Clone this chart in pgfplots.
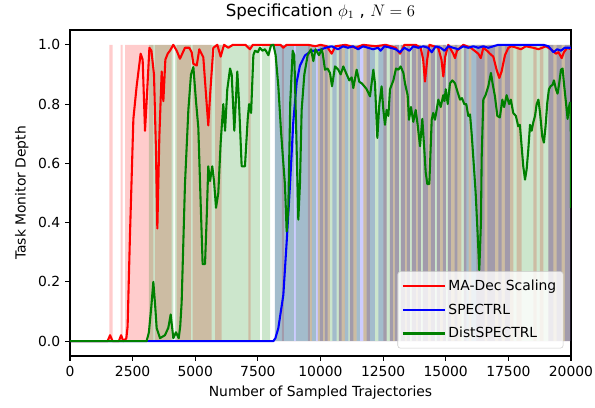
\documentclass[border=0pt]{standalone}
\usepackage{pgfplots}
\pgfplotsset{compat=1.18}
\usepackage{fontspec}
\setmainfont{DejaVu Sans}
\definecolor{mplgreen}{rgb}{0,0.5,0}

% band indicators (1 = shaded over full height)
\pgfplotstableread{
x y
0 0
1570 1
1705 0
2023 1
2103 0
2196 1
3327 0
3393 1
4059 0
4259 1
4830 0
4900 1
5656 0
5790 1
6055 0
7120 1
7210 0
8463 1
8543 0
9501 1
9661 0
9900 1
10379 0
10738 1
10978 0
11178 1
11445 0
11709 1
11976 0
12507 1
12643 0
12774 1
13134 0
13214 1
13573 0
13653 1
14012 0
14092 1
14571 0
14651 1
15010 0
15090 1
15621 0
15728 1
15820 0
15916 1
16020 0
16220 1
17697 0
17833 1
18032 0
18495 1
18631 0
18762 1
18894 0
19094 1
20000 1
}\bandred

\pgfplotstableread{
x y
0 0
8184 1
9581 0
9661 1
9900 0
9980 1
10100 0
10180 1
10287 0
10471 1
10647 0
10738 1
10846 0
10978 1
11110 0
11178 1
11309 0
11445 1
11709 0
11844 1
12176 0
12307 1
12643 0
12774 1
12894 0
12974 1
13134 0
13214 1
13373 0
13453 1
13573 0
13653 1
13812 0
13892 1
14012 0
14092 1
14291 0
14411 1
14571 0
14651 1
14770 0
14890 1
15010 0
15090 1
15210 0
15357 1
15461 0
15728 1
15916 0
16020 1
16555 0
16659 1
16966 0
17098 1
17234 0
17365 1
17565 0
19094 1
19293 0
19429 1
19629 0
19760 1
20000 1
}\bandblue

\pgfplotstableread{
x y
0 0
3150 1
4125 0
4190 1
7590 0
7660 1
7990 0
8184 1
8942 0
9022 1
9820 0
9900 1
11577 0
11709 1
20000 1
}\bandgreen

\pgfplotstableread{
x y
0 0
1500 0
1600 0.02
1700 0
1950 0
2040 0.02
2130 0
2250 0.01
2300 0.05
2395 0.36
2530 0.75
2660 0.86
2820 0.97
2900 0.95
2995 0.71
3060 0.81
3170 0.99
3250 0.98
3353 0.90
3430 0.65
3487 0.38
3567 0.69
3660 0.91
3727 0.81
3807 0.95
3900 0.97
3990 0.98
4125 1.0
4260 0.98
4390 0.953
4590 0.99
4760 0.99
4857 0.975
4925 0.936
5060 0.93
5162 0.985
5322 0.958
5440 0.82
5521 0.728
5600 0.84
5722 0.99
5880 1.0
6015 0.96
6148 1.0
6320 0.99
6500 1.0
7000 1.0
7186 0.985
7300 1.0
8400 1.0
8515 0.99
8650 1.0
9500 1.0
9800 0.995
10000 1.0
10250 0.995
10445 0.97
10600 0.995
11000 1.0
11400 0.99
11700 1.0
12200 0.995
12600 1.0
13000 0.99
13175 0.97
13350 1.0
13800 1.0
14000 0.99
14100 0.95
14172 0.876
14260 0.95
14350 1.0
14700 0.99
14830 0.95
14905 0.893
14980 0.96
15100 1.0
15300 0.97
15370 0.955
15450 0.98
15700 1.0
16000 0.99
16300 0.97
16400 0.955
16500 0.99
16650 0.98
16765 0.97
16900 0.96
17030 0.916
17140 0.888
17230 0.91
17365 0.965
17500 0.99
17630 0.995
17830 0.99
18000 0.985
18200 0.995
18500 0.99
18700 0.985
19000 0.995
19230 0.983
19400 0.97
19500 0.975
19630 0.955
19720 0.975
19850 0.99
20000 0.985
}\madec

\pgfplotstableread{
x y
0 0
8117 0
8200 0.01
8317 0.044
8517 0.156
8650 0.335
8782 0.526
8915 0.74
9050 0.874
9180 0.93
9380 0.964
9650 0.98
9850 0.98
10050 0.985
10200 0.99
10445 0.995
10700 0.985
10900 0.995
11100 0.99
11300 0.995
11500 0.985
11700 0.995
11900 0.99
12100 0.985
12300 0.99
12400 0.98
12550 0.995
12800 0.99
13000 0.985
13175 0.975
13350 0.99
13550 0.98
13700 0.995
13900 0.99
14100 0.995
14300 0.99
14440 0.975
14600 0.995
14800 0.99
14950 0.98
15100 0.995
15300 0.99
15500 0.985
15700 0.995
15900 0.99
16100 0.995
16300 0.99
16500 0.995
16700 0.99
16900 0.995
17100 1.0
17500 1.0
18000 1.0
18500 1.0
18900 1.0
19100 0.995
19300 0.975
19450 0.985
19600 0.98
19750 0.99
20000 0.99
}\spectrl

\pgfplotstableread{
x y
0 0
3060 0
3150 0.03
3250 0.12
3327 0.20
3400 0.12
3460 0.044
3593 0.01
3790 0.02
3925 0.045
4020 0.09
4125 0.01
4230 0.03
4340 0.01
4400 0.05
4457 0.13
4590 0.53
4725 0.78
4830 0.90
4925 0.925
5030 0.81
5123 0.72
5215 0.47
5295 0.26
5390 0.26
5455 0.41
5520 0.59
5590 0.54
5680 0.59
5750 0.54
5830 0.45
5920 0.50
6015 0.67
6120 0.80
6190 0.71
6280 0.85
6390 0.92
6455 0.90
6560 0.71
6680 0.91
6745 0.81
6853 0.59
6985 0.59
7095 0.75
7150 0.80
7230 0.77
7320 0.965
7385 0.98
7495 0.975
7585 0.99
7680 0.98
7785 0.985
7920 0.965
8025 0.998
8120 1.0
8210 0.965
8317 0.86
8423 0.71
8517 0.60
8580 0.53
8650 0.37
8715 0.45
8795 0.81
8890 0.98
8955 0.965
9020 0.75
9115 0.41
9180 0.53
9248 0.78
9355 0.90
9488 0.965
9620 0.985
9715 0.945
9800 0.985
9940 0.965
10045 0.985
10090 0.97
10180 0.916
10280 0.92
10380 0.905
10460 0.86
10580 0.927
10710 0.916
10805 0.90
10910 0.927
11020 0.905
11150 0.88
11245 0.89
11310 0.854
11445 0.916
11550 0.875
11650 0.87
11750 0.86
11845 0.85
11976 0.826
12110 0.916
12175 0.87
12270 0.686
12350 0.80
12440 0.86
12510 0.78
12575 0.73
12640 0.78
12710 0.76
12775 0.85
12910 0.88
13015 0.92
13110 0.916
13200 0.927
13310 0.905
13373 0.87
13480 0.83
13533 0.747
13613 0.79
13705 0.74
13800 0.78
13880 0.73
13973 0.658
14066 0.75
14146 0.645
14200 0.57
14265 0.53
14345 0.53
14440 0.747
14500 0.77
14572 0.747
14705 0.815
14800 0.79
14900 0.83
14950 0.81
15000 0.85
15080 0.80
15170 0.87
15265 0.88
15370 0.87
15475 0.84
15570 0.815
15650 0.82
15740 0.80
15820 0.80
15900 0.76
15970 0.765
16035 0.70
16100 0.62
16195 0.50
16275 0.36
16340 0.24
16405 0.40
16435 0.62
16500 0.815
16590 0.83
16700 0.86
16805 0.905
16870 0.87
16965 0.826
17060 0.76
17160 0.755
17260 0.815
17330 0.79
17430 0.83
17530 0.80
17600 0.815
17695 0.77
17800 0.76
17895 0.725
17960 0.73
18030 0.658
18095 0.59
18165 0.545
18230 0.58
18295 0.645
18365 0.73
18430 0.71
18500 0.74
18565 0.76
18630 0.80
18700 0.815
18765 0.77
18855 0.69
18920 0.67
18985 0.725
19055 0.805
19120 0.85
19185 0.86
19265 0.865
19320 0.88
19400 0.85
19465 0.835
19530 0.87
19600 0.916
19665 0.92
19720 0.87
19800 0.805
19865 0.75
19920 0.79
19960 0.805
19990 0.80
20000 0.45
}\distspectrl

\begin{document}
\begin{tikzpicture}
\begin{axis}[
    scale only axis,
    width=360.7pt, height=234.7pt,
    xmin=0, xmax=20000,
    ymin=-0.05, ymax=1.05,
    xtick={0,2500,...,20000},
    ytick={0,0.2,0.4,0.6,0.8,1.0},
    scaled x ticks=false,
    xticklabel style={/pgf/number format/1000 sep={}},
    yticklabel style={/pgf/number format/.cd, fixed, fixed zerofill, precision=1},
    /pgf/number format/assume math mode=true,
    tick align=outside,
    xtick pos=bottom, ytick pos=left,
    major tick length=3.5pt,
    every tick/.style={black, line width=0.8pt},
    axis line style={line width=0.8pt},
    xlabel={Number of Sampled Trajectories},
    ylabel={Task Monitor Depth},
    title={Specification $\phi_1$ , $N = 6$},
    title style={font=\large, yshift=-2pt},
    legend style={at={(0.985,0.023)}, anchor=south east, fill=white, fill opacity=0.8,
        text opacity=1, draw opacity=1, draw=black!20, rounded corners=2pt,
        font=\normalsize, row sep=4pt, inner xsep=3pt, inner ysep=4pt},
    legend cell align=left,
    legend image code/.code={\draw[#1, line width=1.5pt] (0pt,0pt) -- (22pt,0pt); \path (0pt,0pt) -- (30pt,0pt);},
]
\addplot[const plot mark left, draw=none, fill=red, fill opacity=0.2, forget plot] table {\bandred} \closedcycle;
\addplot[const plot mark left, draw=none, fill=blue, fill opacity=0.2, forget plot] table {\bandblue} \closedcycle;
\addplot[const plot mark left, draw=none, fill=mplgreen, fill opacity=0.2, forget plot] table {\bandgreen} \closedcycle;
\addplot[red, line width=1.5pt, line join=round] table {\madec};
\addlegendentry{MA-Dec Scaling}
\addplot[blue, line width=1.5pt, line join=round] table {\spectrl};
\addlegendentry{SPECTRL}
\addplot[mplgreen, line width=1.5pt, line join=round] table {\distspectrl};
\addlegendentry{DistSPECTRL}
\end{axis}
\pgfresetboundingbox
\path[use as bounding box] ([xshift=-50.4pt,yshift=-36.9pt]current axis.south west) rectangle ([xshift=17.3pt,yshift=21.6pt]current axis.north east);
\end{tikzpicture}
\end{document}
